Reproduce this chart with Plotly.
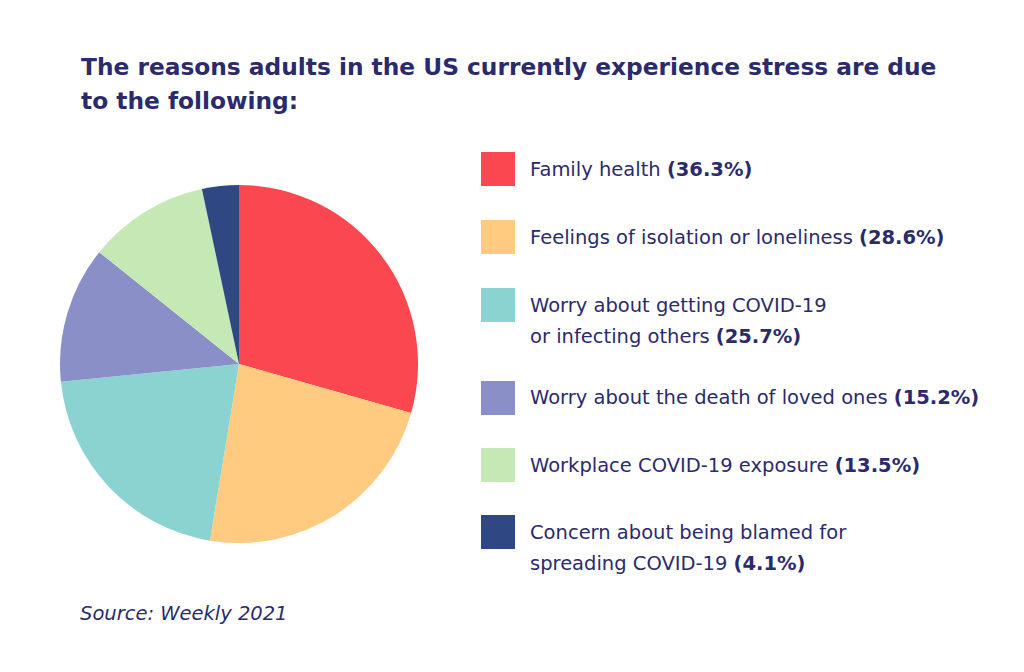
import plotly.graph_objects as go

labels = [
    "Family health",
    "Feelings of isolation or loneliness",
    "Worry about getting COVID-19<br>or infecting others",
    "Worry about the death of loved ones",
    "Workplace COVID-19 exposure",
    "Concern about being blamed for<br>spreading COVID-19",
]
values = [36.3, 28.6, 25.7, 15.2, 13.5, 4.1]
colors = ["#FB4850", "#FECB80", "#8AD3D1", "#8A8FC7", "#C5E9B5", "#2F4782"]

title_lines = ["The reasons adults in the US currently experience stress are due",
               "to the following:"]
source_text = "Source: Weekly 2021"

W, H = 1024, 672
OX, OY = 8, 8  # page body margin offset
TEXT = "#2B2B6B"
FONT = "DejaVu Sans"


def px(x):
    return (x - OX) / W


def py(y):
    return (H - (y - OY)) / H


fig = go.Figure(go.Pie(
    labels=[l.replace("<br>", " ") for l in labels],
    values=values,
    marker=dict(colors=colors, line=dict(width=0)),
    sort=False,
    direction="clockwise",
    rotation=0,
    textinfo="none",
    hoverinfo="label+value",
    showlegend=False,
    domain=dict(x=[px(60), px(418)], y=[py(543), py(185)]),
))

# legend square tops (px)
tops = [152, 220, 288, 381, 448, 515]
sq = 34
line_gap = 31
shapes = []
annotations = []
for lab, val, col, t in zip(labels, values, colors, tops):
    shapes.append(dict(type="rect", xref="paper", yref="paper",
                       x0=px(481), x1=px(481 + sq),
                       y0=py(t + sq), y1=py(t),
                       fillcolor=col, line=dict(width=0)))
    parts = lab.split("<br>")
    for i, part in enumerate(parts):
        txt = part
        if i == len(parts) - 1:
            txt = f"{part} <b>({val}%)</b>"
        annotations.append(dict(
            xref="paper", yref="paper", x=px(528), y=py(t + sq / 2 + i * line_gap),
            xanchor="left", yanchor="middle", showarrow=False, align="left",
            text=txt,
            font=dict(family=FONT, size=19.5, color=TEXT),
        ))

for i, line in enumerate(title_lines):
    annotations.append(dict(
        xref="paper", yref="paper", x=px(79), y=py(66 + i * 35),
        xanchor="left", yanchor="middle", showarrow=False, align="left",
        text=f"<b>{line}</b>",
        font=dict(family=FONT, size=23.3, color=TEXT),
    ))
annotations.append(dict(
    xref="paper", yref="paper", x=px(78), y=py(613),
    xanchor="left", yanchor="middle", showarrow=False, align="left",
    text=f"<i>{source_text}</i>",
    font=dict(family=FONT, size=19.5, color=TEXT),
))

fig.update_layout(
    width=W, height=H,
    margin=dict(l=0, r=0, t=0, b=0),
    paper_bgcolor="white", plot_bgcolor="white",
    shapes=shapes, annotations=annotations,
)
fig.write_html("out.html")
